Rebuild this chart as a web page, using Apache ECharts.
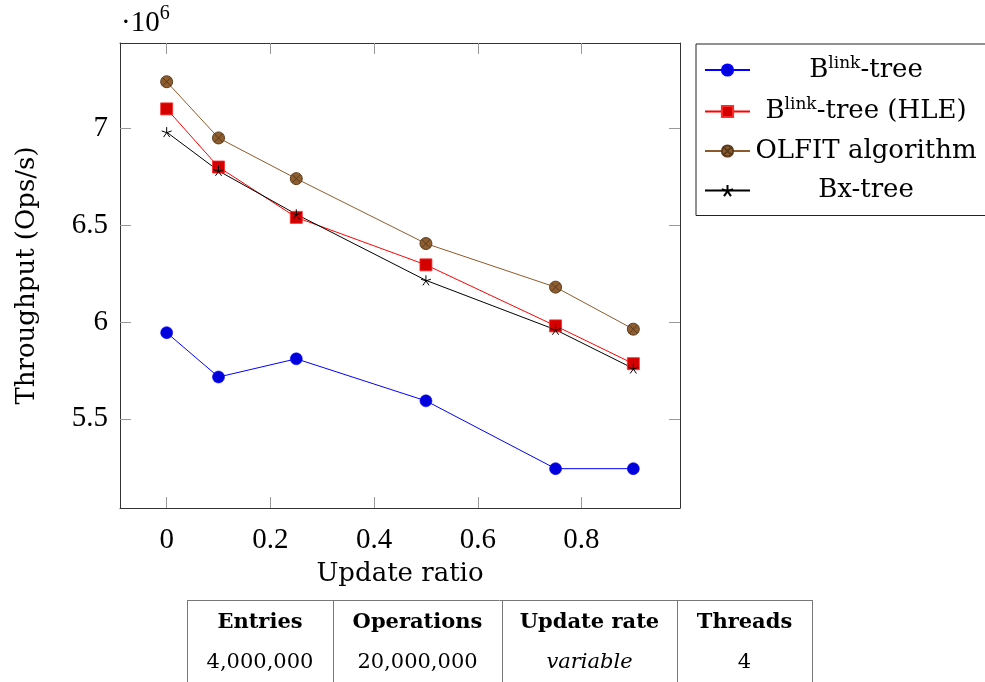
<!DOCTYPE html>
<html>
<head>
<meta charset="utf-8">
<script src="https://cdn.jsdelivr.net/npm/echarts@6/dist/echarts.min.js"></script>
<style>
  html, body { margin: 0; padding: 0; background: #fff; }
  #chart { width: 985px; height: 682px; }
</style>
</head>
<body>
<div id="chart"></div>
<script>
// data (values in millions of ops/s)
var updateRatio = [0, 0.1, 0.25, 0.5, 0.75, 0.9];
var blinkTree = [5.945, 5.716, 5.81, 5.593, 5.243, 5.243];
var blinkHle = [7.10, 6.80, 6.54, 6.295, 5.98, 5.785];
var olfit = [7.24, 6.95, 6.74, 6.405, 6.18, 5.963];
var bxTree = [6.98, 6.78, 6.556, 6.215, 5.96, 5.76];
var seriesNames = ['Blink-tree', 'Blink-tree (HLE)', 'OLFIT algorithm', 'Bx-tree'];
var xTicks = [0, 0.2, 0.4, 0.6, 0.8];
var yTicks = [5.5, 6, 6.5, 7];
var tableHead = ['Entries', 'Operations', 'Update rate', 'Threads'];
var tableRow = ['4,000,000', '20,000,000', 'variable', '4'];

var tickFont = 'Liberation Serif';
var textFont = 'DejaVu Serif';

function pairs(ys) {
  return ys.map(function (y, i) { return [updateRatio[i], y]; });
}

var starPath = 'path://M0 0L0 -1M0 0L0.951 -0.309M0 0L0.588 0.809M0 0L-0.588 0.809M0 0L-0.951 -0.309';
var otimesPath = 'path://M-1 0A1 1 0 1 1 1 0A1 1 0 1 1 -1 0ZM-0.707 -0.707L0.707 0.707M0.707 -0.707L-0.707 0.707';

var chart = echarts.init(document.getElementById('chart'));

// small table under the plot
var colX = [187, 333, 502, 677, 812];
var tableGraphic = [];
tableGraphic.push({ type: 'line', shape: { x1: colX[0], y1: 600.5, x2: colX[4], y2: 600.5 },
  style: { stroke: '#777', lineWidth: 1 } });
colX.forEach(function (x) {
  tableGraphic.push({ type: 'line', shape: { x1: x + 0.5, y1: 600, x2: x + 0.5, y2: 682 },
    style: { stroke: '#777', lineWidth: 1 } });
});
for (var i = 0; i < 4; i++) {
  var cx = (colX[i] + colX[i + 1]) / 2;
  tableGraphic.push({ type: 'text', x: cx, y: 623,
    style: { text: tableHead[i], font: 'bold 21px "' + textFont + '"', fill: '#000',
      align: 'center', verticalAlign: 'middle' } });
  tableGraphic.push({ type: 'text', x: cx, y: 663,
    style: { text: tableRow[i], font: (i === 2 ? 'italic ' : '') + '21px "' + textFont + '"',
      fill: '#000', align: 'center', verticalAlign: 'middle' } });
}

var axisBox = { onZero: false, lineStyle: { color: '#333', width: 1 } };
var tickStyle = { lineStyle: { color: '#999', width: 1 } };

var option = {
  animation: false,
  grid: { left: 120, right: 305, top: 43, bottom: 174, containLabel: false, outerBoundsMode: 'none' },
  legend: {
    orient: 'vertical',
    left: 696, top: 44,
    padding: [11, 12, 12, 8],
    itemGap: 13.5,
    itemWidth: 45, itemHeight: 14,
    itemTextGap: 6,
    borderColor: '#222', borderWidth: 1,
    data: seriesNames,
    formatter: function (name) {
      if (name === 'Blink-tree') return '{t|B}{s|link}{t|-tree}';
      if (name === 'Blink-tree (HLE)') return '{t|B}{s|link}{t|-tree (HLE)}';
      return '{t|' + name + '}';
    },
    textStyle: {
      width: 222,
      color: '#000',
      rich: {
        t: { fontFamily: textFont, fontSize: 26, lineHeight: 30, align: 'center', color: '#000' },
        s: { fontFamily: textFont, fontSize: 17, lineHeight: 18, align: 'center', verticalAlign: 'top', color: '#000' }
      }
    }
  },
  graphic: [{
    type: 'text', left: 121, top: 4,
    style: {
      text: '{a|·10}{b|6}',
      rich: {
        a: { fontFamily: tickFont, fontSize: 29, lineHeight: 34, verticalAlign: 'bottom', fill: '#000' },
        b: { fontFamily: tickFont, fontSize: 20, lineHeight: 34, verticalAlign: 'top', fill: '#000' }
      }
    }
  }].concat(tableGraphic),
  xAxis: [{
    type: 'value', min: -0.09, max: 0.99,
    name: 'Update ratio', nameLocation: 'middle', nameGap: 53,
    nameTextStyle: { fontFamily: textFont, fontSize: 26, color: '#000' },
    splitLine: { show: false },
    axisLine: axisBox,
    axisTick: Object.assign({ inside: true, length: 11, customValues: xTicks }, tickStyle),
    axisLabel: { customValues: xTicks, margin: 18, fontFamily: tickFont, fontSize: 29, color: '#000' }
  }, {
    type: 'value', min: -0.09, max: 0.99, position: 'top',
    splitLine: { show: false },
    axisLine: axisBox,
    axisTick: Object.assign({ inside: true, length: 11, customValues: xTicks }, tickStyle),
    axisLabel: { show: false }
  }],
  yAxis: [{
    type: 'value', min: 5.04, max: 7.44,
    name: 'Throughput (Ops/s)', nameLocation: 'middle', nameGap: 80, nameRotate: 90,
    nameTextStyle: { fontFamily: textFont, fontSize: 26, color: '#000' },
    splitLine: { show: false },
    axisLine: axisBox,
    axisTick: Object.assign({ inside: true, length: 11, customValues: yTicks }, tickStyle),
    axisLabel: { customValues: yTicks, margin: 12, fontFamily: tickFont, fontSize: 29, color: '#000' }
  }, {
    type: 'value', min: 5.04, max: 7.44, position: 'right',
    splitLine: { show: false },
    axisLine: axisBox,
    axisTick: Object.assign({ inside: true, length: 11, customValues: yTicks }, tickStyle),
    axisLabel: { show: false }
  }],
  series: [{
    name: seriesNames[0], type: 'line', data: pairs(blinkTree),
    symbol: 'circle', symbolSize: 12,
    lineStyle: { color: '#0000ff', width: 1 },
    itemStyle: { color: '#0000dd', borderColor: '#0000ff', borderWidth: 0.6 }
  }, {
    name: seriesNames[1], type: 'line', data: pairs(blinkHle),
    symbol: 'rect', symbolSize: 12,
    lineStyle: { color: '#ff0000', width: 1 },
    itemStyle: { color: '#d40000', borderColor: '#ff2a2a', borderWidth: 0.8 }
  }, {
    name: seriesNames[2], type: 'line', data: pairs(olfit),
    symbol: otimesPath, symbolSize: 12,
    lineStyle: { color: '#8c5a2b', width: 1 },
    itemStyle: { color: '#8f5e30', borderColor: '#5a3a1a', borderWidth: 1 }
  }, {
    name: seriesNames[3], type: 'line', data: pairs(bxTree),
    symbol: starPath, symbolSize: 10,
    lineStyle: { color: '#000', width: 1 },
    itemStyle: { color: 'none', borderColor: '#000', borderWidth: 1 }
  }]
};

chart.setOption(option);
</script>
</body>
</html>
